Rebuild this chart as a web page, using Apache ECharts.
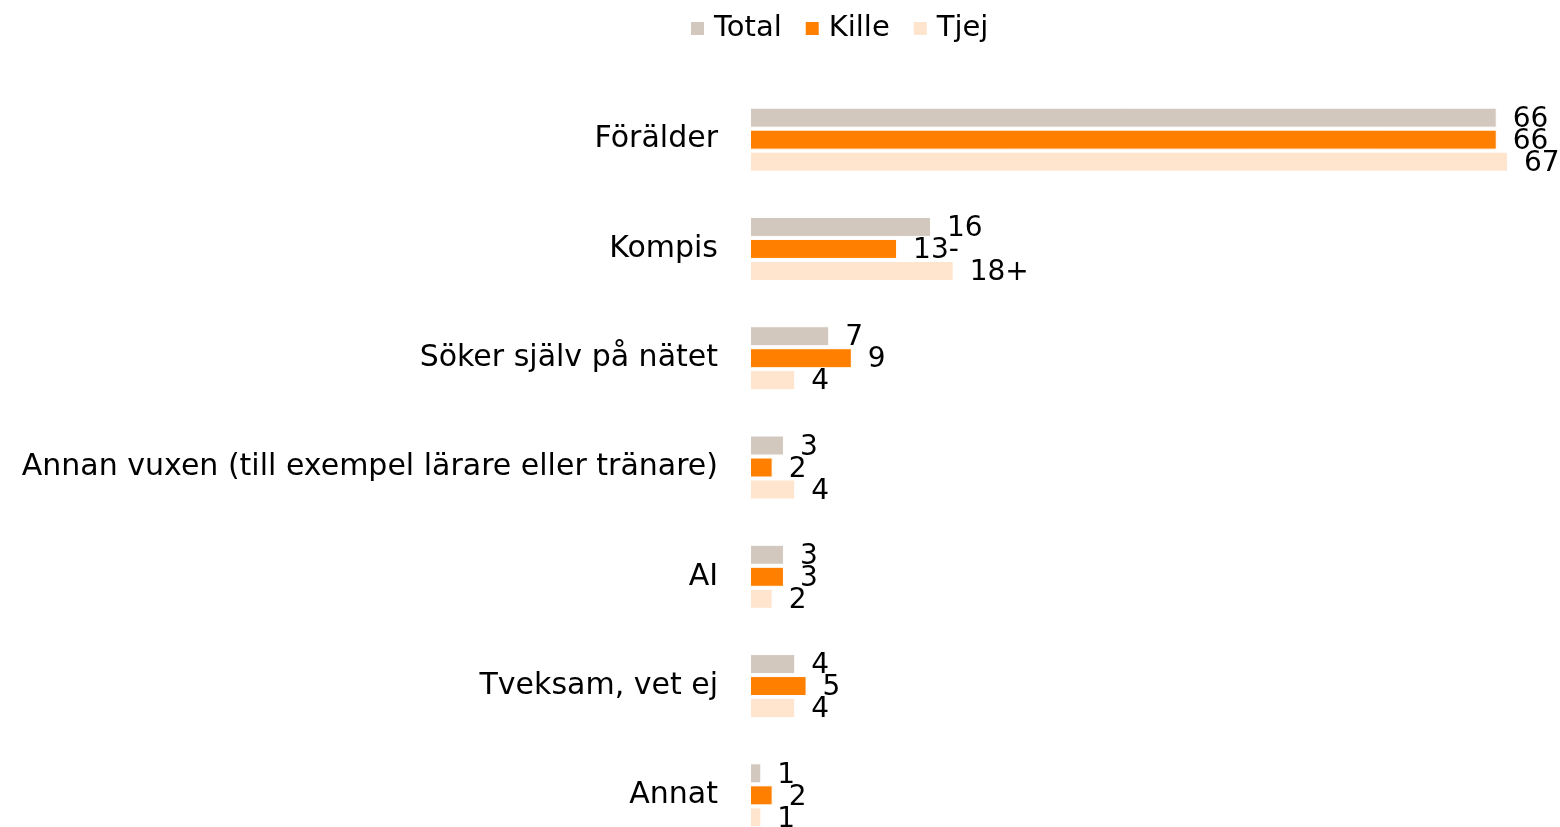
<!DOCTYPE html>
<html lang="sv">
<head>
<meta charset="UTF-8">
<title>Förälder, kompis, nätet</title>
<script src="https://cdn.jsdelivr.net/npm/echarts@6/dist/echarts.min.js"></script>
<style>
  html, body { margin: 0; padding: 0; background: #fff; overflow: hidden; }
  #wrap { width: 1560px; height: 827px; overflow: hidden; }
  #chart { width: 1560px; height: 860px; }
</style>
</head>
<body>
<div id="wrap"><div id="chart"></div></div>
<script>
// kategorier (uppifrån och ned)
var categories = ['Förälder', 'Kompis', 'Söker själv på nätet',
  'Annan vuxen (till exempel lärare eller tränare)', 'AI', 'Tveksam, vet ej', 'Annat'];

// andelar i procent
var total = [66, 16, 7, 3, 3, 4, 1];
var kille = [66, 13, 9, 2, 3, 5, 2];
var tjej  = [67, 18, 4, 4, 2, 4, 1];

// signifikansmarkering efter värdet
var killeSig = ['', '-', '', '', '', '', ''];
var tjejSig  = ['', '+', '', '', '', '', ''];

var font = 'DejaVu Sans';

function makeSeries(name, values, color, sig) {
  return {
    name: name,
    type: 'bar',
    data: values,
    barWidth: 20,
    barGap: '10%',
    itemStyle: { color: color, borderColor: '#fff', borderWidth: 1 },
    label: {
      show: true,
      position: 'right',
      distance: 16,
      offset: [0, 2],
      color: '#000',
      fontFamily: font,
      fontSize: 28,
      formatter: function (p) {
        return p.value + (sig ? sig[p.dataIndex] : '');
      }
    }
  };
}

var chart = echarts.init(document.getElementById('chart'));
chart.setOption({
  animation: false,
  legend: {
    top: 9,
    left: 684,
    itemWidth: 15,
    itemHeight: 15,
    itemGap: 22,
    icon: 'rect',
    textStyle: { fontFamily: font, fontSize: 29, color: '#000', padding: [0, 0, 0, 4] },
    data: ['Total', 'Kille', 'Tjej']
  },
  grid: { left: 750, right: 18, top: 85, bottom: 10 },
  xAxis: {
    type: 'value',
    min: 0,
    max: 70,
    show: false
  },
  yAxis: {
    type: 'category',
    inverse: true,
    data: categories,
    axisLine: { show: false },
    axisTick: { show: false },
    axisLabel: { margin: 32, color: '#000', fontFamily: font, fontSize: 30 }
  },
  series: [
    makeSeries('Total', total, '#D3C8BE', null),
    makeSeries('Kille', kille, '#FF8000', killeSig),
    makeSeries('Tjej', tjej, '#FFE4CE', tjejSig)
  ]
});
</script>
</body>
</html>
